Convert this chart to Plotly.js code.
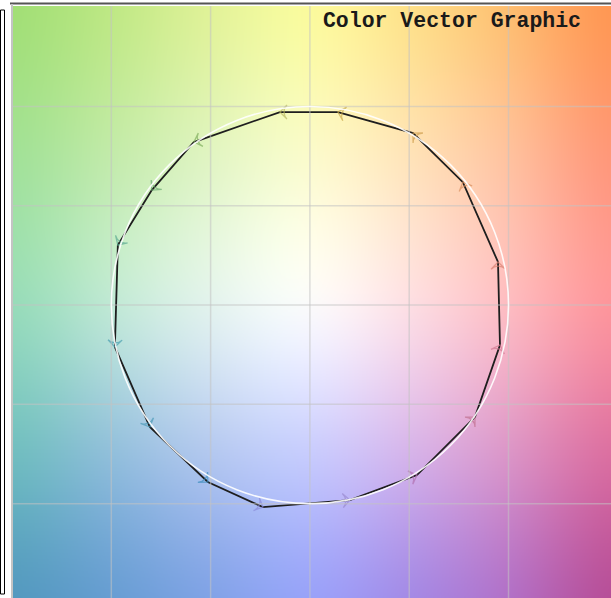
<!DOCTYPE html>
<html>
<head>
<meta charset="utf-8">
<script src="https://cdn.plot.ly/plotly-3.0.1.min.js"></script>
<style>html,body{margin:0;padding:0;background:#fff;}#chart{width:611px;height:598px;}</style>
</head>
<body>
<div id="chart"></div>
<script>
// Sampled background colours (rows top -> bottom, columns left -> right)
const bgRowTop    = [[160,222,115],[190,232,130],[225,242,150],[252,252,155],[254,225,135],[254,190,110],[255,150,80]];
const bgRowHigh   = [[160,225,150],[195,235,170],[225,245,195],[252,252,205],[255,228,185],[255,195,160],[255,150,120]];
const bgRowMid    = [[150,220,185],[195,235,215],[230,245,240],[255,255,255],[255,225,230],[255,190,195],[255,150,155]];
const bgRowLow    = [[110,190,190],[145,190,220],[180,200,240],[200,205,255],[215,180,235],[220,150,200],[220,110,160]];
const bgRowBottom = [[80,150,190],[100,155,210],[125,160,230],[150,160,250],[160,135,230],[175,110,200],[180,75,150]];
const bgCols = [-150, -100, -50, 0, 50, 100, 150];   // column centres (a*)
const bgRows = [150, 75, 0, -75, -150];              // row centres (b*)

// Colour vector path (a*, b*)
const vecA = [14.1, -15.1, -58.4, -79.6, -96.7, -98.2, -80.6, -51.4, -23.7, 20.1, 53.9, 83.1, 95.7, 94.7, 77.0, 51.9, 14.1];
const vecB = [97.2, 97.2, 82.1, 57.9, 30.2, -21.1, -61.4, -89.1, -101.7, -98.2, -85.6, -56.4, -20.1, 21.7, 61.9, 86.6, 97.2];
const arrowColors = ['#c9a94a','#b8b860','#7fae5c','#6aa870','#5aa890','#4a9fb0','#4a9ab8','#3f8fbf','#8a8ad8','#9a8ad0','#b070b0','#c07090','#d07890','#d88070','#d89060','#d0a050','#c9a94a'];

const refRadius = 100;
const gridTicks = [-100, -50, 0, 50, 100];
const titleText = 'Color Vector Graphic';

// Build the smooth background: tiny bitmap of sampled colours, upscaled by the browser
function makeBackground() {
  const rows = [bgRowTop, bgRowHigh, bgRowMid, bgRowLow, bgRowBottom];
  const w = rows[0].length, h = rows.length;
  const small = document.createElement('canvas');
  small.width = w; small.height = h;
  const sctx = small.getContext('2d');
  const img = sctx.createImageData(w, h);
  rows.forEach((row, j) => row.forEach((c, i) => {
    const k = (j * w + i) * 4;
    img.data[k] = c[0]; img.data[k + 1] = c[1]; img.data[k + 2] = c[2]; img.data[k + 3] = 255;
  }));
  sctx.putImageData(img, 0, 0);
  const big = document.createElement('canvas');
  big.width = w * 100; big.height = h * 100;
  const bctx = big.getContext('2d');
  bctx.imageSmoothingEnabled = true;
  bctx.imageSmoothingQuality = 'high';
  bctx.drawImage(small, 0, 0, w, h, 0, 0, big.width, big.height);
  return big.toDataURL('image/png');
}
const dxCol = bgCols[1] - bgCols[0];
const dyRow = bgRows[0] - bgRows[1];

const path = {
  type: 'scatter',
  mode: 'lines+markers',
  x: vecA, y: vecB,
  line: {color: '#1e1e1e', width: 1.8},
  marker: {
    symbol: 'arrow-wide-open',
    angleref: 'previous',
    size: vecA.map((v, i) => i === 0 ? 0 : 10),
    color: arrowColors,
    line: {color: arrowColors, width: 1.3}
  },
  hoverinfo: 'skip',
  showlegend: false
};

const shapes = [];
gridTicks.forEach(t => {
  shapes.push({type: 'line', xref: 'x', yref: 'paper', x0: t, x1: t, y0: 0, y1: 1, layer: 'above',
    line: {color: 'rgba(195,195,195,0.55)', width: 1.5}});
  shapes.push({type: 'line', xref: 'paper', yref: 'y', x0: 0, x1: 1, y0: t, y1: t, layer: 'above',
    line: {color: 'rgba(195,195,195,0.55)', width: 1.5}});
});
shapes.push({type: 'circle', xref: 'x', yref: 'y', x0: -refRadius, x1: refRadius, y0: -refRadius, y1: refRadius,
  layer: 'above', line: {color: 'rgba(255,255,255,0.9)', width: 1.6}});
// frame decorations
shapes.push({type: 'rect', xref: 'paper', yref: 'paper', x0: 0.5/598 - 13/598, x1: 4.5/598 - 13/598, y0: 4/592, y1: 588/592,
  line: {color: '#000', width: 1}, fillcolor: '#fff'});
shapes.push({type: 'line', xref: 'paper', yref: 'paper', x0: -3/598, x1: 1, y0: 594.5/592, y1: 594.5/592,
  line: {color: '#555', width: 2}});
shapes.push({type: 'line', xref: 'paper', yref: 'paper', x0: -1/598, x1: -1/598, y0: 0, y1: 594/592,
  line: {color: '#c4c4c4', width: 2}});

const layout = {
  width: 611, height: 598,
  margin: {l: 13, r: 0, t: 6, b: 0},
  paper_bgcolor: '#fff',
  plot_bgcolor: '#fff',
  showlegend: false,
  title: {
    text: titleText,
    font: {family: '"Courier New", "Liberation Mono", monospace', size: 21.5, color: '#1a1a1a', weight: 'bold'},
    x: 581/611, xanchor: 'right', xref: 'container',
    y: 1 - 19/598, yanchor: 'middle', yref: 'container'
  },
  xaxis: {range: [-149.5, 151.6], showgrid: false, zeroline: false, showticklabels: false, ticks: '', showline: false, fixedrange: true},
  yaxis: {range: [-147.5, 150.6], showgrid: false, zeroline: false, showticklabels: false, ticks: '', showline: false, fixedrange: true},
  images: [{
    source: makeBackground(),
    xref: 'x', yref: 'y',
    x: bgCols[0] - dxCol / 2, y: bgRows[0] + dyRow / 2,
    sizex: dxCol * bgCols.length, sizey: dyRow * bgRows.length,
    sizing: 'stretch', xanchor: 'left', yanchor: 'top', layer: 'below'
  }],
  shapes: shapes
};

Plotly.newPlot('chart', [path], layout, {displayModeBar: false, staticPlot: true});
</script>
</body>
</html>
